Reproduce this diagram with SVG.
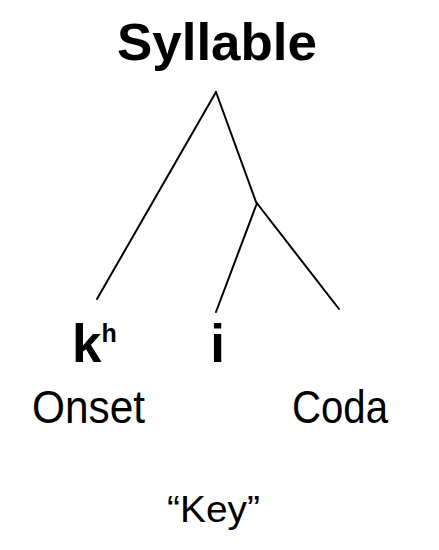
<svg xmlns="http://www.w3.org/2000/svg" width="439" height="550" viewBox="0 0 439 550">
<style>
.b{font-family:"Liberation Sans",Arial,sans-serif;font-weight:bold;fill:#000}
.r{font-family:"Liberation Sans",Arial,sans-serif;font-weight:normal;fill:#000}
.e{stroke:#000;stroke-width:2;fill:none;stroke-linecap:round}
</style>
<rect width="439" height="550" fill="#fff"/>
<g id="connectors">
<line class="e" x1="216" y1="92" x2="97" y2="299"/>
<line class="e" x1="216" y1="92" x2="256" y2="202"/>
<line class="e" x1="257" y1="203" x2="216" y2="312"/>
<line class="e" x1="256" y1="202" x2="339" y2="309"/>
</g>
<g id="syllable"><text class="b" x="217" y="60" font-size="52" text-anchor="middle" textLength="200" lengthAdjust="spacingAndGlyphs">Syllable</text></g>
<g id="kh"><text class="b" x="72" y="362" font-size="53">k<tspan font-size="25" dy="-20">h</tspan></text></g>
<g id="i"><text class="b" x="217.5" y="362" font-size="53" text-anchor="middle">i</text></g>
<g id="onset"><text class="r" x="32" y="423" font-size="47" textLength="113" lengthAdjust="spacingAndGlyphs">Onset</text></g>
<g id="coda"><text class="r" x="292" y="423" font-size="47" textLength="96" lengthAdjust="spacingAndGlyphs">Coda</text></g>
<g id="key"><text class="r" x="167" y="522" font-size="37" textLength="93" lengthAdjust="spacingAndGlyphs">“Key”</text></g>
</svg>
